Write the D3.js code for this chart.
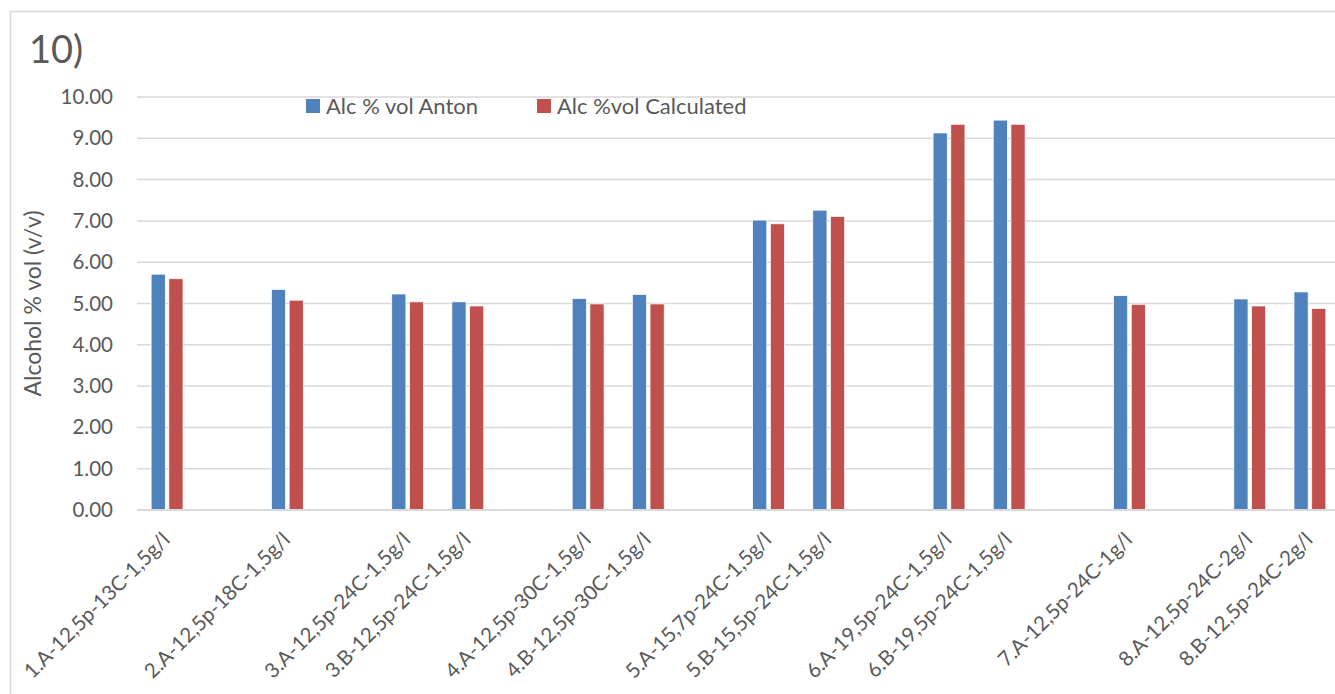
<!DOCTYPE html>
<html>
<head>
<meta charset="utf-8">
<script src="https://cdn.jsdelivr.net/npm/d3@7"></script>
<style>
  html, body { margin: 0; padding: 0; background: #fff; }
  svg { display: block; font-family: Lato, "Open Sans", sans-serif; }
</style>
</head>
<body>
<svg id="chart" width="1335" height="694"></svg>
<script>
// Sample names; empty entries are spacer slots between sample groups
const categories = [
  "1.A-12,5p-13C-1,5g/l", "",
  "2.A-12,5p-18C-1,5g/l", "",
  "3.A-12,5p-24C-1,5g/l", "3.B-12,5p-24C-1,5g/l", "",
  "4.A-12,5p-30C-1,5g/l", "4.B-12,5p-30C-1,5g/l", "",
  "5.A-15,7p-24C-1,5g/l", "5.B-15,5p-24C-1,5g/l", "",
  "6.A-19,5p-24C-1,5g/l", "6.B-19,5p-24C-1,5g/l", "",
  "7.A-12,5p-24C-1g/l", "",
  "8.A-12,5p-24C-2g/l", "8.B-12,5p-24C-2g/l"
];
const antonValues = [
  5.71, null, 5.34, null, 5.23, 5.04, null, 5.12, 5.22, null,
  7.02, 7.26, null, 9.13, 9.44, null, 5.19, null, 5.11, 5.28
];
const calculatedValues = [
  5.60, null, 5.08, null, 5.04, 4.94, null, 4.99, 4.99, null,
  6.93, 7.11, null, 9.34, 9.34, null, 4.98, null, 4.94, 4.88
];
const seriesNames = ["Alc % vol Anton", "Alc %vol Calculated"];
const seriesColors = ["#4f81bd", "#c0504d"];
const yTicks = [0, 1, 2, 3, 4, 5, 6, 7, 8, 9, 10];
const chartTitle = "10)";
const yTitle = "Alcohol % vol (v/v)";

const series = [antonValues, calculatedValues];
const svg = d3.select("#chart");
const textColor = "#595959";
const gridColor = "#d9d9d9";

// Chart frame
svg.append("rect")
  .attr("x", 10.5).attr("y", 11.5)
  .attr("width", 1400).attr("height", 800)
  .attr("fill", "#fff").attr("stroke", gridColor).attr("stroke-width", 1.5);

const plot = { left: 137, right: 1340, top: 97, bottom: 510 };

const x = d3.scaleBand()
  .domain(d3.range(categories.length))
  .range([plot.left, plot.right])
  .paddingInner(0.47)
  .paddingOuter(0.235);

const xSeries = d3.scaleBand()
  .domain(d3.range(series.length))
  .range([0, x.bandwidth()])
  .paddingInner(0.2);

const y = d3.scaleLinear().domain([0, 10]).range([plot.bottom, plot.top]);

// Horizontal gridlines
svg.append("g")
  .selectAll("line")
  .data(yTicks.filter(t => t !== 0))
  .join("line")
  .attr("x1", plot.left).attr("x2", plot.right)
  .attr("y1", d => y(d)).attr("y2", d => y(d))
  .attr("stroke", gridColor).attr("stroke-width", 1.5);

// Y axis tick labels
const yAxis = d3.axisLeft(y).tickValues(yTicks).tickFormat(d3.format(".2f")).tickSize(0).tickPadding(0);
const yg = svg.append("g").attr("transform", `translate(113,0)`).call(yAxis);
yg.select(".domain").remove();
yg.selectAll("text")
  .attr("fill", textColor)
  .style("font-size", "20.5px")
  .style("font-family", "Lato, 'Open Sans', sans-serif");

// Bars
const groups = svg.append("g")
  .selectAll("g")
  .data(series)
  .join("g")
  .attr("fill", (d, i) => seriesColors[i]);

groups.each(function(vals, si) {
  d3.select(this).selectAll("rect")
    .data(vals.map((v, i) => ({ v, i })).filter(d => d.v !== null))
    .join("rect")
    .attr("x", d => x(d.i) + xSeries(si))
    .attr("width", xSeries.bandwidth())
    .attr("y", d => y(d.v))
    .attr("height", d => y(0) - y(d.v))
    .attr("stroke", "#fff")
    .attr("stroke-width", 0.75);
});

// Category axis line
svg.append("line")
  .attr("x1", plot.left).attr("x2", plot.right)
  .attr("y1", y(0)).attr("y2", y(0))
  .attr("stroke", gridColor).attr("stroke-width", 2);

// Category labels, rotated
svg.append("g")
  .selectAll("text")
  .data(categories.map((c, i) => ({ c, i })).filter(d => d.c !== ""))
  .join("text")
  .attr("transform", d => `translate(${x(d.i) + x.bandwidth() / 2 + 4},541) rotate(-45)`)
  .attr("text-anchor", "end")
  .attr("fill", textColor)
  .style("font-size", "20.5px")
  .text(d => d.c);

// Y axis title
svg.append("text")
  .attr("transform", `translate(41,${(plot.top + plot.bottom) / 2}) rotate(-90)`)
  .attr("text-anchor", "middle")
  .attr("fill", textColor)
  .style("font-size", "23px")
  .text(yTitle);

// Chart title
svg.append("text")
  .attr("x", 29).attr("y", 63)
  .attr("fill", textColor)
  .style("font-size", "38px")
  .text(chartTitle);

// Legend
const legendPos = [306, 537];
const legend = svg.append("g")
  .selectAll("g")
  .data(seriesNames)
  .join("g")
  .attr("transform", (d, i) => `translate(${legendPos[i]},99)`);
legend.append("rect")
  .attr("width", 14).attr("height", 14)
  .attr("fill", (d, i) => seriesColors[i]);
legend.append("text")
  .attr("x", 20).attr("y", 14.5)
  .attr("fill", textColor)
  .style("font-size", "22px")
  .text(d => d);
</script>
</body>
</html>
